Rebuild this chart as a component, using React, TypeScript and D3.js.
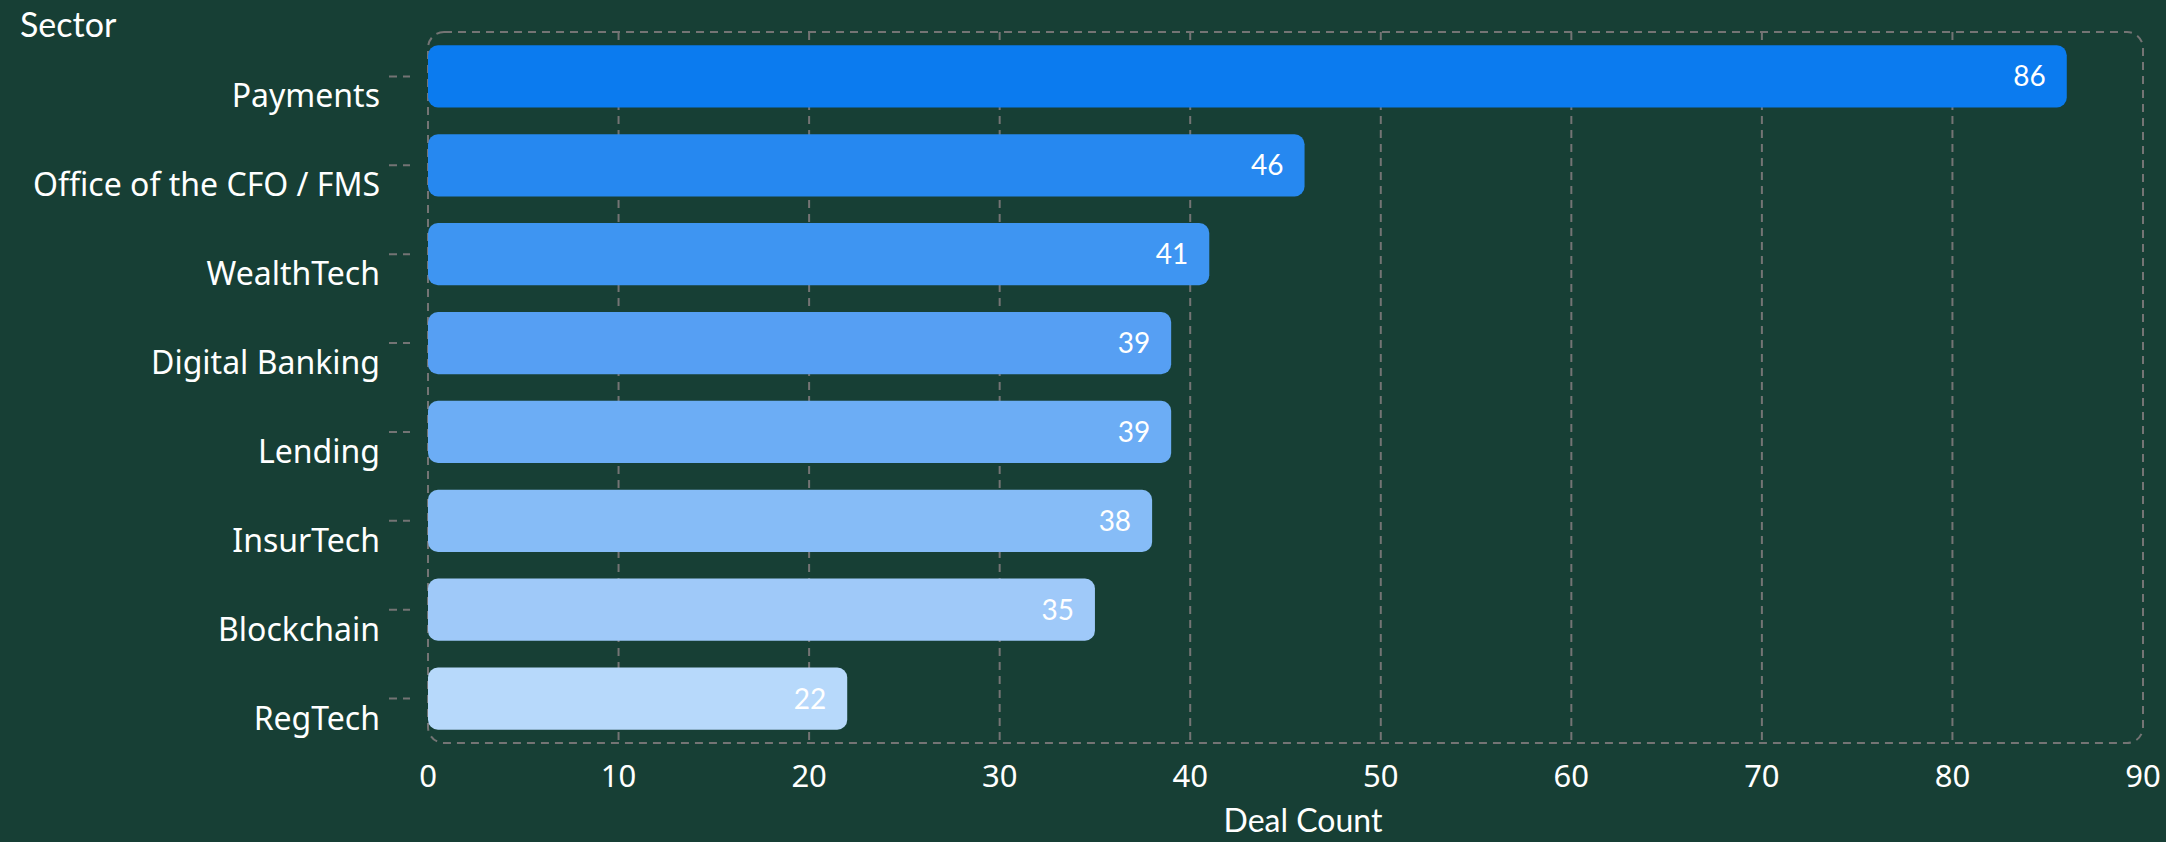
import React from "react";
import * as d3 from "d3";

const sectors = [
  "Payments",
  "Office of the CFO / FMS",
  "WealthTech",
  "Digital Banking",
  "Lending",
  "InsurTech",
  "Blockchain",
  "RegTech",
];
const dealCounts = [86, 46, 41, 39, 39, 38, 35, 22];
const xTicks = [0, 10, 20, 30, 40, 50, 60, 70, 80, 90];
const barColors = [
  "#0b7bef",
  "#2688f0",
  "#3e95f2",
  "#569ff3",
  "#6cadf5",
  "#86bcf7",
  "#9fc9f9",
  "#b7d9fb",
];

const W = 2166;
const H = 842;
const left = 428;
const right = 2143;
const top = 32;
const bottom = 743;
const BG = "#173f35";
const GRID = "#747474";
const LABEL_FONT = "'Noto Sans', sans-serif";
const HEAD_FONT = "Lato, 'Noto Sans', sans-serif";

export default function App() {
  const x = d3.scaleLinear().domain([0, 90]).range([left, right]);
  const y = d3
    .scaleBand<string>()
    .domain(sectors)
    .range([top, bottom])
    .paddingInner(0.3)
    .paddingOuter(0.15);
  const bw = y.bandwidth();

  return (
    <svg
      width={W}
      height={H}
      style={{ position: "absolute", left: 0, top: 0, display: "block" }}
    >
      <rect x={0} y={0} width={W} height={H} fill={BG} />
      {/* grid lines */}
      {xTicks.slice(1, -1).map((t) => (
        <line
          key={"g" + t}
          x1={x(t)}
          x2={x(t)}
          y1={top}
          y2={bottom}
          stroke={GRID}
          strokeWidth={2}
          strokeDasharray="8 6"
        />
      ))}
      {/* plot border */}
      <rect
        x={left}
        y={top}
        width={right - left}
        height={bottom - top}
        rx={16}
        ry={16}
        fill="none"
        stroke={GRID}
        strokeWidth={2}
        strokeDasharray="8 6"
      />
      {/* y ticks */}
      {sectors.map((s) => (
        <line
          key={"yt" + s}
          x1={389}
          x2={410}
          y1={(y(s) as number) + bw / 2}
          y2={(y(s) as number) + bw / 2}
          stroke={GRID}
          strokeWidth={2}
          strokeDasharray="8 6"
        />
      ))}
      {/* bars */}
      {sectors.map((s, i) => (
        <rect
          key={"b" + s}
          x={x(0)}
          y={y(s) as number}
          width={x(dealCounts[i]) - x(0)}
          height={bw}
          rx={10}
          ry={10}
          fill={barColors[i]}
        />
      ))}
      {/* value labels */}
      {sectors.map((s, i) => (
        <text
          key={"v" + s}
          x={x(dealCounts[i]) - 21}
          y={(y(s) as number) + bw / 2 + 10}
          textAnchor="end"
          fill="#ffffff"
          fontFamily={HEAD_FONT}
          fontSize={28}
        >
          {dealCounts[i]}
        </text>
      ))}
      {/* category labels */}
      {sectors.map((s) => (
        <text
          key={"l" + s}
          x={380}
          y={(y(s) as number) + bw / 2 + 31}
          textAnchor="end"
          fill="#ffffff"
          fontFamily={LABEL_FONT}
          fontSize={32}
        >
          {s}
        </text>
      ))}
      {/* x tick labels */}
      {xTicks.map((t) => (
        <text
          key={"xt" + t}
          x={x(t)}
          y={787}
          textAnchor="middle"
          fill="#ffffff"
          fontFamily={LABEL_FONT}
          fontSize={31}
        >
          {t}
        </text>
      ))}
      <text
        x={20}
        y={37}
        fill="#ffffff"
        fontFamily={HEAD_FONT}
        fontSize={34}
      >
        Sector
      </text>
      <text
        x={1303}
        y={832}
        textAnchor="middle"
        fill="#ffffff"
        fontFamily={HEAD_FONT}
        fontSize={32}
      >
        Deal Count
      </text>
    </svg>
  );
}
